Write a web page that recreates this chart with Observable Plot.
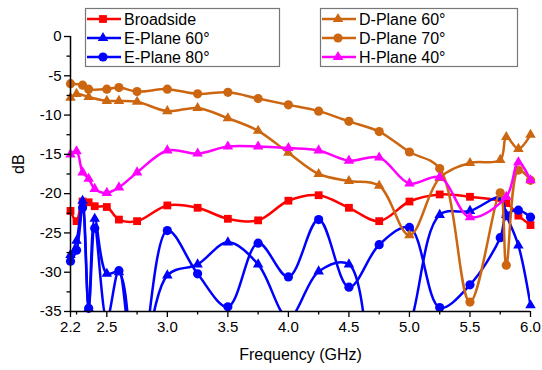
<!DOCTYPE html>
<html>
<head>
<meta charset="utf-8">
<script src="https://cdn.jsdelivr.net/npm/d3@7"></script>
<script src="https://cdn.jsdelivr.net/npm/@observablehq/plot@0.6"></script>
<style>
  html, body { margin: 0; padding: 0; background: #fff; }
  #chart { width: 542px; height: 370px; }
</style>
</head>
<body>
<div id="chart"></div>
<script>
// ---- Data ----
const fBroadside = [2.2, 2.25, 2.3, 2.35, 2.4, 2.5, 2.6, 2.75, 3.0, 3.25, 3.5, 3.75, 4.0, 4.25, 4.5, 4.75, 5.0, 5.25, 5.5, 5.8, 5.9, 6.0];
const dbBroadside = [-22.2, -23.5, -21.0, -21.1, -21.6, -21.7, -23.3, -23.5, -21.5, -21.8, -23.2, -23.4, -20.9, -20.2, -21.8, -23.5, -21.0, -20.1, -20.4, -21.2, -22.8, -24.0];

const fE60 = [2.2, 2.25, 2.3, 2.35, 2.4, 2.5, 2.6, 2.75, 3.0, 3.25, 3.5, 3.75, 4.0, 4.25, 4.5, 4.75, 5.0, 5.25, 5.5, 5.75, 5.8, 5.9, 6.0];
const dbE60 = [-27.8, -26.0, -20.9, -34.6, -23.2, -30.2, -30.0, -44.0, -30.4, -29.0, -26.2, -29.0, -35.8, -29.9, -29.0, -46.0, -37.0, -22.7, -22.2, -20.5, -22.7, -26.6, -34.2];

const fE80 = [2.2, 2.25, 2.3, 2.35, 2.4, 2.5, 2.6, 2.75, 3.0, 3.25, 3.5, 3.75, 4.0, 4.25, 4.5, 4.75, 5.0, 5.25, 5.5, 5.75, 5.8, 5.9, 6.0];
const dbE80 = [-28.6, -27.2, -21.8, -34.6, -24.4, -36.0, -29.8, -45.0, -24.7, -30.2, -34.4, -26.3, -30.6, -23.3, -31.9, -26.5, -24.3, -34.5, -31.6, -25.6, -22.8, -22.1, -23.0];

const fD60 = [2.2, 2.25, 2.35, 2.5, 2.6, 2.75, 3.0, 3.25, 3.5, 3.75, 4.0, 4.25, 4.5, 4.75, 5.0, 5.25, 5.5, 5.75, 5.8, 5.9, 6.0];
const dbD60 = [-7.8, -7.3, -7.7, -8.2, -8.2, -8.3, -9.5, -9.1, -10.4, -12.0, -14.8, -17.5, -18.4, -19.0, -25.3, -18.0, -16.1, -15.7, -12.8, -14.3, -12.5];

const fD70 = [2.2, 2.3, 2.35, 2.5, 2.6, 2.75, 3.0, 3.25, 3.5, 3.75, 4.0, 4.25, 4.5, 4.75, 5.0, 5.25, 5.5, 5.75, 5.8, 5.9, 6.0];
const dbD70 = [-6.0, -6.2, -6.7, -6.7, -6.5, -7.0, -6.7, -7.3, -7.1, -7.9, -8.7, -9.5, -10.8, -12.1, -14.7, -16.8, -33.8, -19.9, -29.1, -17.0, -18.3];

const fH40 = [2.2, 2.25, 2.3, 2.35, 2.4, 2.5, 2.6, 2.75, 3.0, 3.25, 3.5, 3.75, 4.0, 4.25, 4.5, 4.75, 5.0, 5.25, 5.5, 5.8, 5.9, 6.0];
const dbH40 = [-15.0, -14.6, -17.3, -18.1, -19.4, -19.9, -19.2, -17.3, -14.5, -14.9, -14.0, -14.0, -14.2, -14.5, -15.8, -15.4, -18.7, -17.9, -23.0, -20.4, -16.0, -18.3];

const seriesNames = ["Broadside", "E-Plane 60°", "E-Plane 80°", "D-Plane 60°", "D-Plane 70°", "H-Plane 40°"];
const seriesColors = ["#FF0000", "#0000FF", "#0000FF", "#CC6611", "#CC6611", "#FF00FF"];
const seriesSymbols = ["square", "triangle", "circle", "triangle", "circle", "triangle"];

const xMajorTicks = [2.2, 2.5, 3.0, 3.5, 4.0, 4.5, 5.0, 5.5, 6.0];
const xMinorTicks = [2.25, 2.75, 3.25, 3.75, 4.25, 4.75, 5.25, 5.75];
const yMajorTicks = [0, -5, -10, -15, -20, -25, -30, -35];
const yMinorTicks = [-2.5, -7.5, -12.5, -17.5, -22.5, -27.5, -32.5];

// ---- Build table ----
const freqs = [fBroadside, fE60, fE80, fD60, fD70, fH40];
const vals = [dbBroadside, dbE60, dbE80, dbD60, dbD70, dbH40];
const series = seriesNames.map((name, i) => ({
  name, color: seriesColors[i], symbol: seriesSymbols[i],
  rows: freqs[i].map((f, j) => ({f, db: vals[i][j], name}))
}));
const symR = {square: 4.4, triangle: 3.9, circle: 4.6};

const FONT = "'Liberation Sans', Arial, Helvetica, sans-serif";

const marks = [];
for (const s of series) {
  marks.push(Plot.line(s.rows, {x: "f", y: "db", stroke: s.color, strokeWidth: 2.5, curve: "catmull-rom", clip: true}));
  marks.push(Plot.dot(s.rows.filter(d => d.db >= -35.2), {x: "f", y: "db", symbol: s.symbol, fill: s.color, stroke: "none", r: symR[s.symbol]}));
}

const chart = Plot.plot({
  width: 542,
  height: 370,
  marginLeft: 70,
  marginRight: 12,
  marginTop: 36,
  marginBottom: 59,
  style: {fontFamily: FONT, fontSize: "15px", color: "#000", background: "#fff"},
  x: {domain: [2.2, 6.0]},
  y: {domain: [-35, 0]},
  marks: [
    ...marks,
    Plot.ruleX([2.2], {stroke: "#000", strokeWidth: 1.5}),
    Plot.ruleY([-35], {stroke: "#000", strokeWidth: 1.5}),
    Plot.axisX(xMajorTicks, {tickSize: 6, tickPadding: 4, tickFormat: d3.format(".1f"), label: null, fontSize: 15, strokeWidth: 1.3}),
    Plot.axisX(xMinorTicks, {tickSize: 3.5, tickFormat: () => "", label: null, strokeWidth: 1.3}),
    Plot.axisY(yMajorTicks, {tickSize: 6, tickPadding: 3, tickFormat: d => d3.format("d")(d).replace("−", "-"), label: null, fontSize: 15, strokeWidth: 1.3}),
    Plot.axisY(yMinorTicks, {tickSize: 3.5, tickFormat: () => "", label: null, strokeWidth: 1.3}),
    Plot.text(["Frequency (GHz)"], {frameAnchor: "bottom", dy: 48, fontSize: 16, fill: "#000"}),
    Plot.text(["dB"], {frameAnchor: "left", dx: -52, rotate: -90, fontSize: 16, fill: "#000"})
  ]
});

document.getElementById("chart").appendChild(chart);

// ---- Legend (two boxed groups, drawn inside the SVG) ----
const svg = d3.select(chart);
const symbolTypes = {square: d3.symbolSquare, triangle: d3.symbolTriangle, circle: d3.symbolCircle};
const legendGroups = [
  {x: 85, y: 8, w: 194, h: 58, items: [0, 1, 2]},
  {x: 320, y: 8, w: 197, h: 58, items: [3, 4, 5]}
];
for (const g of legendGroups) {
  const lg = svg.append("g").attr("text-anchor", "start");
  lg.append("rect").attr("x", g.x + 0.5).attr("y", g.y + 0.5).attr("width", g.w).attr("height", g.h)
    .attr("fill", "#fff").attr("stroke", "#777").attr("stroke-width", 1.2);
  g.items.forEach((idx, k) => {
    const s = series[idx];
    const cy = g.y + 11 + k * 19;
    lg.append("line").attr("x1", g.x + 2).attr("x2", g.x + 36).attr("y1", cy).attr("y2", cy)
      .attr("stroke", s.color).attr("stroke-width", 2.5);
    const r = symR[s.symbol];
    lg.append("path").attr("d", d3.symbol(symbolTypes[s.symbol], r * r * Math.PI)())
      .attr("transform", `translate(${g.x + 18},${cy})`).attr("fill", s.color);
    lg.append("text").attr("x", g.x + 39).attr("y", cy).attr("dy", "0.36em")
      .attr("text-anchor", "start")
      .attr("font-size", 16).attr("font-family", FONT).attr("fill", "#000").text(s.name);
  });
}
</script>
</body>
</html>
